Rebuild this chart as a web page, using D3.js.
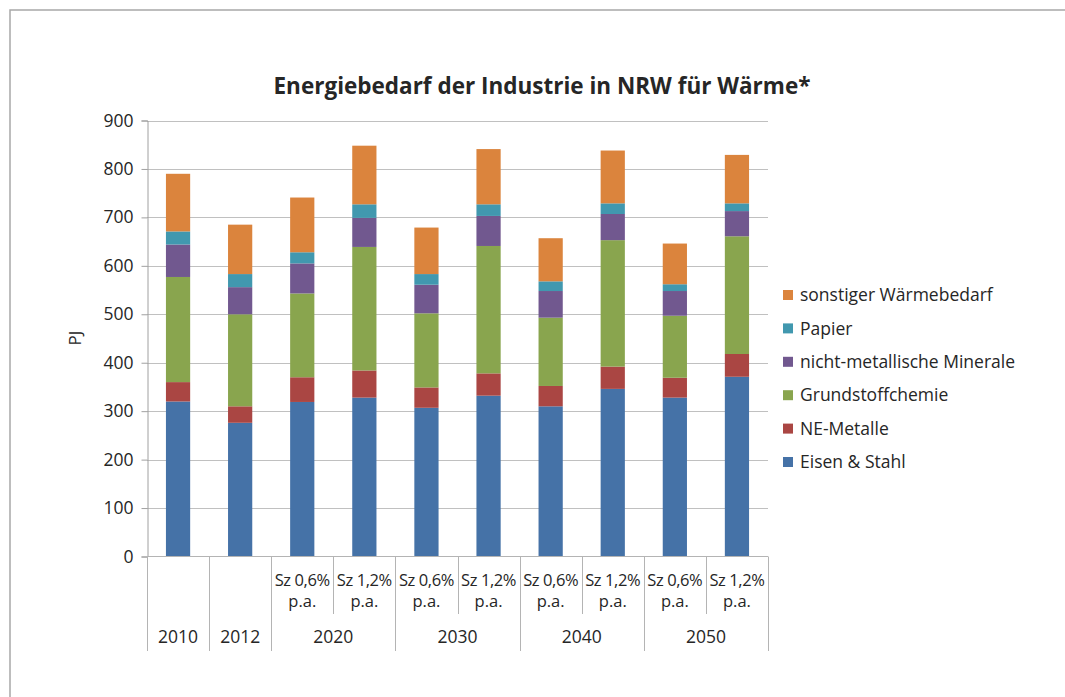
<!DOCTYPE html>
<html lang="de">
<head>
    <meta charset="UTF-8">
    <title>Energiebedarf der Industrie in NRW für Wärme</title>
    <script src="https://d3js.org/d3.v7.min.js"></script>
    <style>
        body { margin: 0; background: #fff; }
        svg { display: block; font-family: "Open Sans", sans-serif; }
        .grid line { stroke: #c0c0c0; stroke-width: 1px; }
        .sep { stroke: #b4b4b4; stroke-width: 1px; }
    </style>
</head>
<body>
<svg id="canvas" width="1065" height="697"></svg>

<script>
    // bar categories (scenario label under each bar) and year groups
    let scenarioLines1 = ["", "", "Sz 0,6%", "Sz 1,2%", "Sz 0,6%", "Sz 1,2%", "Sz 0,6%", "Sz 1,2%", "Sz 0,6%", "Sz 1,2%"];
    let scenarioLines2 = ["", "", "p.a.", "p.a.", "p.a.", "p.a.", "p.a.", "p.a.", "p.a.", "p.a."];
    let groupLabels = ["2010", "2012", "2020", "2030", "2040", "2050"];
    let groupSizes = [1, 1, 2, 2, 2, 2];

    // series values in PJ
    let eisenStahl = [320, 276, 319, 328, 307, 332, 310, 346, 328, 371];
    let neMetalle = [40, 34, 51, 56, 42, 46, 42, 46, 41, 47];
    let grundstoffchemie = [217, 190, 173, 255, 153, 263, 141, 261, 128, 243];
    let nichtMetMinerale = [67, 56, 62, 60, 59, 62, 55, 54, 51, 52];
    let papier = [27, 27, 23, 28, 22, 24, 20, 22, 14, 16];
    let sonstiger = [119, 102, 113, 121, 96, 114, 89, 109, 84, 100];

    let seriesNames = ["Eisen & Stahl", "NE-Metalle", "Grundstoffchemie", "nicht-metallische Minerale", "Papier", "sonstiger Wärmebedarf"];
    let seriesColors = ["#4572a7", "#aa4643", "#89a54e", "#71588f", "#4198af", "#db843d"];
    let yTicks = [0, 100, 200, 300, 400, 500, 600, 700, 800, 900];

    let svg = d3.select('svg');

    // outer frame (only top and left edges visible)
    svg.append('path')
        .attr('d', 'M10,697V10H1065')
        .attr('fill', 'none')
        .attr('stroke', '#a8a8a8')
        .attr('stroke-width', 1.5);

    let plotLeft = 147, plotRight = 768, plotTop = 120.5, plotBottom = 556.5;

    let rows = eisenStahl.map(function (d, i) {
        return {
            i: i,
            "Eisen & Stahl": eisenStahl[i],
            "NE-Metalle": neMetalle[i],
            "Grundstoffchemie": grundstoffchemie[i],
            "nicht-metallische Minerale": nichtMetMinerale[i],
            "Papier": papier[i],
            "sonstiger Wärmebedarf": sonstiger[i]
        };
    });

    let x = d3.scaleBand()
        .domain(d3.range(eisenStahl.length))
        .range([plotLeft, plotRight])
        .paddingInner(0.61)
        .paddingOuter(0.305);
    let xEdge = d3.scaleLinear().domain([0, eisenStahl.length]).range([plotLeft, plotRight]);
    let y = d3.scaleLinear().domain([0, 900]).range([plotBottom, plotTop]);
    let color = d3.scaleOrdinal().domain(seriesNames).range(seriesColors);

    // title
    svg.append('text')
        .attr('x', 542)
        .attr('y', 94)
        .attr('text-anchor', 'middle')
        .attr('font-size', 22.5)
        .attr('font-weight', 'bold')
        .attr('fill', '#262626')
        .text('Energiebedarf der Industrie in NRW für Wärme*');

    // gridlines
    svg.append('g')
        .attr('class', 'grid')
        .selectAll('line')
        .data(yTicks.slice(1))
        .enter()
        .append('line')
        .attr('x1', plotLeft)
        .attr('x2', plotRight)
        .attr('y1', function (d) { return Math.round(y(d)) + 0.5; })
        .attr('y2', function (d) { return Math.round(y(d)) + 0.5; });

    // y axis
    let yAxis = svg.append('g')
        .attr('transform', 'translate(' + (plotLeft + 0.5) + ',0)')
        .call(d3.axisLeft(y).tickValues(yTicks).tickSize(6).tickPadding(8));
    yAxis.select('.domain').attr('stroke', '#a0a0a0');
    yAxis.selectAll('.tick line').attr('stroke', '#a0a0a0');
    yAxis.selectAll('.tick text')
        .attr('font-size', 17.5)
        .attr('font-family', '"Open Sans", sans-serif')
        .attr('fill', '#262626');

    svg.append('text')
        .attr('transform', 'translate(81,338) rotate(-90)')
        .attr('text-anchor', 'middle')
        .attr('font-size', 17)
        .attr('fill', '#262626')
        .text('PJ');

    // stacked bars
    let stack = d3.stack().keys(seriesNames);
    let stacked = stack(rows);
    svg.append('g')
        .selectAll('g')
        .data(stacked)
        .enter()
        .append('g')
        .attr('fill', function (d) { return color(d.key); })
        .selectAll('rect')
        .data(function (d) { return d; })
        .enter()
        .append('rect')
        .attr('x', function (d) { return x(d.data.i); })
        .attr('width', x.bandwidth())
        .attr('y', function (d) { return y(d[1]); })
        .attr('height', function (d) { return y(d[0]) - y(d[1]); });

    // x axis baseline
    svg.append('line')
        .attr('class', 'sep')
        .attr('x1', plotLeft).attr('x2', plotRight)
        .attr('y1', plotBottom).attr('y2', plotBottom)
        .attr('stroke', '#a0a0a0');

    // category separators: long ones at group edges, short ones inside groups
    let groupEdges = [0];
    groupSizes.forEach(function (s, i) { groupEdges.push(groupEdges[i] + s); });
    let axisG = svg.append('g');
    axisG.selectAll('line')
        .data(d3.range(eisenStahl.length + 1))
        .enter()
        .append('line')
        .attr('class', 'sep')
        .attr('x1', function (d) { return Math.round(xEdge(d)) + 0.5; })
        .attr('x2', function (d) { return Math.round(xEdge(d)) + 0.5; })
        .attr('y1', plotBottom)
        .attr('y2', function (d) { return groupEdges.indexOf(d) >= 0 ? 651 : 614; });

    // scenario labels
    axisG.selectAll('text.l1')
        .data(scenarioLines1)
        .enter()
        .append('text')
        .attr('class', 'l1')
        .attr('x', function (d, i) { return x(i) + x.bandwidth() / 2; })
        .attr('y', 586)
        .attr('text-anchor', 'middle')
        .attr('font-size', 16.5)
        .attr('letter-spacing', -0.4)
        .attr('fill', '#262626')
        .text(function (d) { return d; });
    axisG.selectAll('text.l2')
        .data(scenarioLines2)
        .enter()
        .append('text')
        .attr('class', 'l2')
        .attr('x', function (d, i) { return x(i) + x.bandwidth() / 2; })
        .attr('y', 607)
        .attr('text-anchor', 'middle')
        .attr('font-size', 16.5)
        .attr('fill', '#262626')
        .text(function (d) { return d; });

    // year group labels
    axisG.selectAll('text.grp')
        .data(groupLabels)
        .enter()
        .append('text')
        .attr('class', 'grp')
        .attr('x', function (d, i) { return (xEdge(groupEdges[i]) + xEdge(groupEdges[i + 1])) / 2; })
        .attr('y', 643)
        .attr('text-anchor', 'middle')
        .attr('font-size', 17.5)
        .attr('fill', '#262626')
        .text(function (d) { return d; });

    // legend (top entry is the top of the stack)
    let legendOrder = seriesNames.slice().reverse();
    let legend = svg.append('g')
        .selectAll('g')
        .data(legendOrder)
        .enter()
        .append('g')
        .attr('transform', function (d, i) { return 'translate(783,' + (295 + i * 33.4) + ')'; });
    legend.append('rect')
        .attr('x', 0)
        .attr('y', -5)
        .attr('width', 10)
        .attr('height', 10)
        .attr('fill', function (d) { return color(d); });
    legend.append('text')
        .attr('x', 17)
        .attr('y', 0)
        .attr('dy', '0.35em')
        .attr('font-size', 17.5)
        .attr('fill', '#262626')
        .text(function (d) { return d; });
</script>
</body>
</html>
